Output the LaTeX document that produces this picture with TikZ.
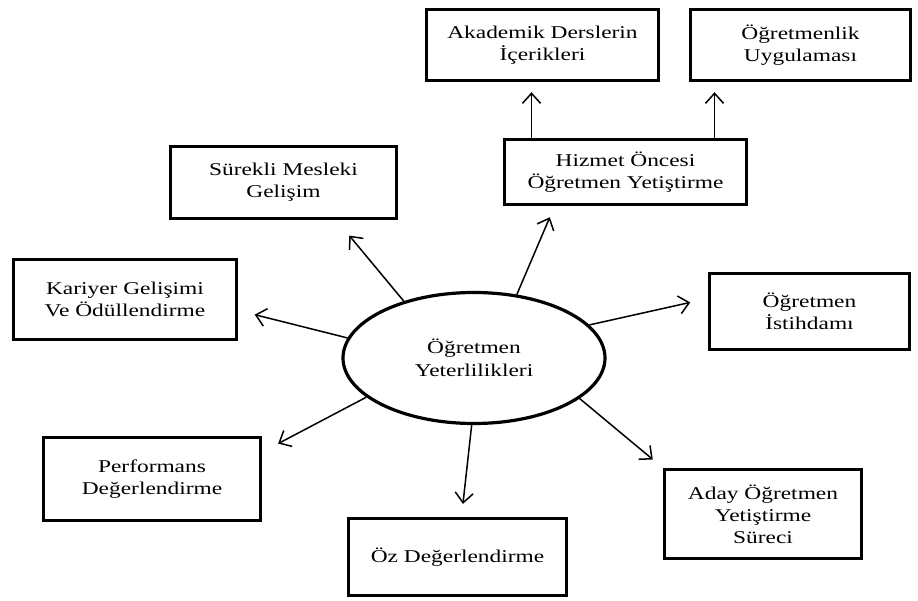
\documentclass[tikz,border=0pt]{standalone}
\usepackage{xcolor}
\usepackage{fontspec}
\setmainfont{Liberation Serif}[FakeStretch=1.3]
\usepackage{tikz}
\usetikzlibrary{shapes,arrows.meta}

\begin{document}
\begin{tikzpicture}[auto, x=1pt, y=-1pt, >={Straight Barb[length=10pt,width=18pt]}]
    \tikzstyle{block} = [rectangle, draw, line width=3.4pt, inner sep=2pt,
        align=center, font=\fontsize{18}{22}\selectfont]
    \tikzstyle{core} = [ellipse, draw, line width=3.2pt, inner sep=0pt,
        minimum width=262pt, minimum height=131pt, align=center,
        font=\fontsize{18}{23}\selectfont]
    \tikzstyle{line} = [draw, ->, line width=1.5pt]

    \useasboundingbox (0,0) rectangle (918,601);

    \node [core] (yeterlilik) at (474,358) {Öğretmen\\Yeterlilikleri};

    \node [block, minimum width=232pt, minimum height=71pt] (akademik) at (542.5,45) {Akademik Derslerin\\İçerikleri};
    \node [block, minimum width=220pt, minimum height=71pt] (uygulama) at (800.5,45) {Öğretmenlik\\Uygulaması};
    \node [block, minimum width=242pt, minimum height=65pt] (hizmet) at (625.5,172) {Hizmet Öncesi\\Öğretmen Yetiştirme};
    \node [block, minimum width=226pt, minimum height=72pt] (surekli) at (283.5,182.5) {Sürekli Mesleki\\Gelişim};
    \node [block, minimum width=223pt, minimum height=80pt] (kariyer) at (125,299.5) {Kariyer Gelişimi\\Ve Ödüllendirme};
    \node [block, minimum width=200pt, minimum height=76pt] (istihdam) at (809.5,311.5) {Öğretmen\\İstihdamı};
    \node [block, minimum width=217pt, minimum height=83pt] (performans) at (152,479) {Performans\\Değerlendirme};
    \node [block, minimum width=218pt, minimum height=77pt] (oz) at (457.5,557) {Öz Değerlendirme};
    \node [block, minimum width=197pt, minimum height=89pt] (aday) at (763,514) {Aday Öğretmen\\Yetiştirme\\Süreci};

    % hizmet oncesi kollari
    \coordinate (hzA) at ([xshift=-94pt]hizmet.north);
    \coordinate (hzB) at ([xshift=89pt]hizmet.north);
    \path [line, shorten >=10pt] (hzA) -- (hzA |- akademik.south);
    \path [line, shorten >=10pt] (hzB) -- (hzB |- uygulama.south);

    % merkezden cikan oklar
    \path [line, shorten >=12pt] (yeterlilik.56) -- ([xshift=-71pt]hizmet.south);
    \path [line, shorten >=20pt] (yeterlilik.141) -- ([xshift=53pt]surekli.south);
    \path [line, shorten >=17pt] (yeterlilik.171) -- ([yshift=-11pt]kariyer.east);
    \path [line, shorten >=18pt] (yeterlilik.16) -- ([yshift=13pt]istihdam.west);
    \path [line, shorten >=18pt] (yeterlilik.200) -- ([yshift=27pt]performans.east);
    \path [line, shorten >=13pt] (yeterlilik.268) -- ([xshift=4pt]oz.north);
    \path [line, shorten >=13pt] (yeterlilik.339) -- (aday.north west);
\end{tikzpicture}
\end{document}
